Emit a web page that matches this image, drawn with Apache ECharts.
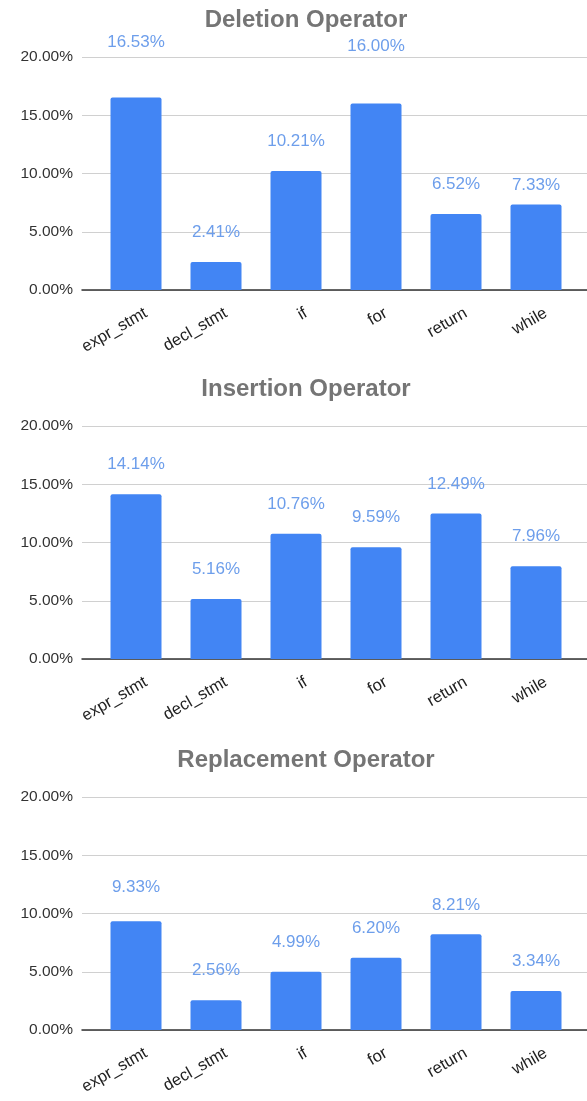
<!DOCTYPE html>
<html>
<head>
<meta charset="utf-8">
<script src="https://cdn.jsdelivr.net/npm/echarts@6/dist/echarts.min.js"></script>
<style>
html,body{margin:0;padding:0;background:#fff;}
#c{width:587px;height:1101px;}
</style>
</head>
<body>
<div id="c"></div>
<script>
// ---- data ----
const categories = ['expr_stmt', 'decl_stmt', 'if', 'for', 'return', 'while'];
const titles = ['Deletion Operator', 'Insertion Operator', 'Replacement Operator'];
const deletionValues = [16.53, 2.41, 10.21, 16.00, 6.52, 7.33];
const insertionValues = [14.14, 5.16, 10.76, 9.59, 12.49, 7.96];
const replacementValues = [9.33, 2.56, 4.99, 6.20, 8.21, 3.34];
const yTicks = [0, 5, 10, 15, 20];

// ---- layout (not data) ----
const FONT = '"Liberation Sans", Arial, sans-serif';
const panelTops = [57, 426, 797];
const panelHeight = 233;
const titleTops = [3, 372, 743];
// extra vertical shift for individual value labels (px, negative = up)
const labelShift = [
  [-26, 0, 0, -28, 0, 10],
  [0, 0, 0, 0, 0, 0],
  [-4, 0, 0, 0, 0, 0]
];

const seriesValues = [deletionValues, insertionValues, replacementValues];
const yMax = yTicks[yTicks.length - 1];
const yInterval = yTicks[1] - yTicks[0];

const chart = echarts.init(document.getElementById('c'), null, {renderer: 'canvas'});

const grid = [], xAxis = [], yAxis = [], series = [], title = [];
panelTops.forEach((top, k) => {
  title.push({
    text: titles[k],
    left: 301, top: titleTops[k], textAlign: 'center',
    textStyle: {fontFamily: FONT, fontWeight: 'bold', fontSize: 24, color: '#757575'}
  });
  const gb = 3 * k, gf = 3 * k + 1, gl = 3 * k + 2;
  // background grid (axis labels, gridlines, baseline)
  grid.push({left: 82, right: 0, top: top, height: panelHeight});
  // bar grid
  grid.push({left: 96, width: 480, top: top, height: panelHeight});
  // category label grid (labels sit slightly right of bar centres)
  grid.push({left: 106, width: 480, top: top, height: panelHeight});

  xAxis.push({
    gridIndex: gb, type: 'value', min: 0, max: 1,
    axisLine: {show: true, lineStyle: {color: '#333', width: 1.5}},
    axisTick: {show: false}, axisLabel: {show: false}, splitLine: {show: false}
  });
  yAxis.push({
    gridIndex: gb, type: 'value', min: 0, max: yMax, interval: yInterval,
    axisLine: {show: false}, axisTick: {show: false},
    axisLabel: {
      margin: 9, fontFamily: FONT, fontSize: 15.5, color: '#333',
      formatter: v => v.toFixed(2) + '%'
    },
    splitLine: {show: true, lineStyle: {color: '#d0d0d0', width: 1}}
  });

  xAxis.push({
    gridIndex: gf, type: 'category', data: categories,
    axisLine: {show: false}, axisTick: {show: false}, axisLabel: {show: false},
    splitLine: {show: false}
  });
  yAxis.push({
    gridIndex: gf, type: 'value', min: 0, max: yMax, interval: yInterval,
    show: false, splitLine: {show: false}
  });

  xAxis.push({
    gridIndex: gl, type: 'category', data: categories,
    axisLine: {show: false}, axisTick: {show: false},
    axisLabel: {
      rotate: 30, margin: 22, fontFamily: FONT, fontSize: 16.5, color: '#222',
      interval: 0
    },
    splitLine: {show: false}
  });
  yAxis.push({
    gridIndex: gl, type: 'value', min: 0, max: yMax,
    show: false, splitLine: {show: false}
  });

  series.push({
    type: 'bar', xAxisIndex: gf, yAxisIndex: gf,
    barWidth: 51,
    itemStyle: {color: '#4285f4', borderRadius: [2, 2, 0, 0]},
    data: seriesValues[k].map((v, i) => ({
      value: v,
      label: {offset: [0, labelShift[k][i]]}
    })),
    label: {
      show: true, position: 'top', distance: 21,
      fontFamily: FONT, fontSize: 17, color: '#6d9eeb',
      formatter: p => p.value.toFixed(2) + '%'
    },
    animation: false
  });
});

chart.setOption({
  animation: false,
  title: title,
  grid: grid,
  xAxis: xAxis,
  yAxis: yAxis,
  series: series
});
</script>
</body>
</html>
